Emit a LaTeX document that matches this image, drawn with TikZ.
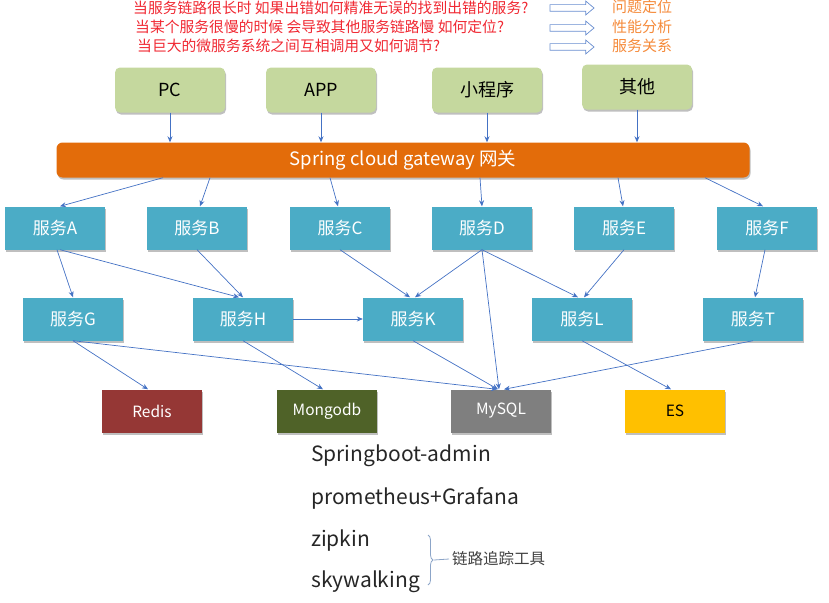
\documentclass[tikz,border=0pt]{standalone}
\usepackage{fontspec}
\setmainfont{Noto Sans CJK SC}
\usetikzlibrary{shapes.arrows,shadows,decorations.pathreplacing,calc,arrows.meta}
\definecolor{cgreen}{RGB}{197,216,158}
\definecolor{corange}{RGB}{227,108,10}
\definecolor{cblue}{RGB}{75,172,198}
\definecolor{credis}{RGB}{149,55,53}
\definecolor{cmongo}{RGB}{79,98,40}
\definecolor{cmysql}{RGB}{127,127,127}
\definecolor{ces}{RGB}{255,192,0}
\definecolor{cline}{RGB}{68,114,196}
\definecolor{cred}{RGB}{240,40,50}
\definecolor{corg}{RGB}{245,138,58}
\definecolor{cbrace}{RGB}{140,165,200}
\begin{document}
\begin{tikzpicture}[x=1pt,y=-1pt,
  shade/.style={drop shadow={shadow xshift=1pt,shadow yshift=-2pt,opacity=0.25,fill=black}},
  client/.style={shade,fill=cgreen,rounded corners=5pt,minimum width=110pt,minimum height=45pt,inner sep=0pt,font=\fontsize{18}{20}\selectfont},
  svc/.style={shade,fill=cblue,minimum width=100pt,minimum height=43pt,inner sep=0pt,text=white,font=\fontsize{17}{20}\selectfont},
  store/.style={shade,minimum width=100pt,minimum height=43pt,inner sep=0pt,font=\fontsize{15.5}{18}\selectfont},
  conn/.style={draw=cline,line width=0.7pt,-{Stealth[length=6pt,width=5pt]}},
  question/.style={anchor=west,text=cred,inner sep=0pt,font=\fontsize{14.8}{16}\selectfont},
  answer/.style={anchor=west,text=corg,inner sep=0pt,font=\fontsize{15}{16}\selectfont},
  hollow/.style={single arrow,draw=cline!80,fill=white,line width=0.7pt,minimum height=44pt,inner xsep=0pt,inner ysep=3pt,single arrow head extend=3.5pt,single arrow tip angle=80},
  tool/.style={anchor=west,inner sep=0pt,text=black!85,font=\fontsize{21}{24}\selectfont}
]
\useasboundingbox (0,0) rectangle (829,602);
% questions
\node[question] (q1) at (133,8) {当服务链路很长时 如果出错如何精准无误的找到出错的服务?};
\node[question] (q2) at (135,27) {当某个服务很慢的时候 会导致其他服务链路慢 如何定位?};
\node[question] (q3) at (137,46) {当巨大的微服务系统之间互相调用又如何调节?};
\node[hollow] (h1) at (570,8) {};
\node[hollow] (h2) at (570,28) {};
\node[hollow] (h3) at (570,47) {};
\node[answer] (a1) at (612,7) {问题定位};
\node[answer] (a2) at (612,27) {性能分析};
\node[answer] (a3) at (612,46) {服务关系};
% clients
\node[client] (pc) at (170,90) {PC};
\node[client] (app) at (321,90) {APP};
\node[client] (mini) at (487,90) {小程序};
\node[client] (other) at (637,87) {其他};
% gateway
\node[shade,fill=corange,rounded corners=6pt,minimum width=693pt,minimum height=35pt,inner sep=0pt,text=white,font=\fontsize{18.5}{20}\selectfont] (gw) at (403,160) {Spring cloud gateway 网关};
% services row 1
\node[svc] (A) at (55,228) {服务A};
\node[svc] (B) at (197,228) {服务B};
\node[svc] (C) at (340,228) {服务C};
\node[svc] (D) at (482,228) {服务D};
\node[svc] (E) at (624,228) {服务E};
\node[svc] (F) at (767,228) {服务F};
% row 2
\node[svc] (G) at (73,319) {服务G};
\node[svc] (H) at (243,319) {服务H};
\node[svc] (K) at (413,319) {服务K};
\node[svc] (L) at (582,319) {服务L};
\node[svc] (T) at (753,319) {服务T};
% stores
\node[store,fill=credis,text=white] (redis) at (152,411) {Redis};
\node[store,fill=cmongo,text=white] (mongo) at (327,411) {Mongodb};
\node[store,fill=cmysql,text=white] (mysql) at (501,411) {MySQL};
\node[store,fill=ces,text=black] (es) at (675,411) {ES};
% client -> gateway
\draw[conn] (pc.south) -- (pc.south |- gw.north);
\draw[conn] (app.south) -- (app.south |- gw.north);
\draw[conn] (mini.south) -- (mini.south |- gw.north);
\draw[conn] (other.south) -- (other.south |- gw.north);
% gateway -> services
\draw[conn] ([xshift=-240pt]gw.south) -- ([xshift=5pt]A.north);
\draw[conn] ([xshift=-193pt]gw.south) -- ([xshift=3pt]B.north);
\draw[conn] ([xshift=-73pt]gw.south) -- ([xshift=-2pt]C.north);
\draw[conn] ([xshift=77pt]gw.south) -- (D.north);
\draw[conn] ([xshift=215pt]gw.south) -- ([xshift=-1pt]E.north);
\draw[conn] ([xshift=302pt]gw.south) -- ([xshift=-4pt]F.north);
% row1 -> row2
\draw[conn] ([xshift=2pt]A.south) -- (G.north);
\draw[conn] ([xshift=5pt]A.south) -- ([xshift=-4pt]H.north);
\draw[conn] (B.south) -- ([xshift=0pt]H.north);
\draw[conn] (C.south) -- ([xshift=-3pt]K.north);
\draw[conn] (D.south) -- ([xshift=2pt]K.north);
\draw[conn] (D.south) -- ([xshift=-4pt]L.north);
\draw[conn] (E.south) -- ([xshift=2pt]L.north);
\draw[conn] ([xshift=-2pt]F.south) -- ([xshift=2pt]T.north);
\draw[conn] (H.east) -- (K.west);
% row2 -> stores
\draw[conn] (G.south) -- ([xshift=-4pt]redis.north);
\draw[conn] (G.south) -- ([xshift=-4pt]mysql.north);
\draw[conn] (D.south) -- ([xshift=-2pt]mysql.north);
\draw[conn] (H.south) -- ([xshift=-4pt]mongo.north);
\draw[conn] (K.south) -- ([xshift=-3pt]mysql.north);
\draw[conn] (T.south) -- ([xshift=3pt]mysql.north);
\draw[conn] (L.south) -- ([xshift=-4pt]es.north);
% tools
\node[tool] (t1) at (311,456) {Springboot-admin};
\node[tool] (t2) at (311,498) {prometheus+Grafana};
\node[tool] (t3) at (311,541) {zipkin};
\node[tool] (t4) at (311,582) {skywalking};
\coordinate (bt) at (428,535);
\coordinate (bb) at (428,585);
\coordinate (btip) at (434,560);
\draw[cbrace,line width=0.8pt,decorate,decoration={brace,amplitude=5pt}] (bt) -- (bb);
\node[anchor=west,inner sep=0pt,text=black!75,font=\fontsize{15.5}{18}\selectfont] (lbl) at (452,559) {链路追踪工具};
\draw[cbrace,line width=0.8pt] (btip) -- ([xshift=-3pt]lbl.west);
\end{tikzpicture}
\end{document}
